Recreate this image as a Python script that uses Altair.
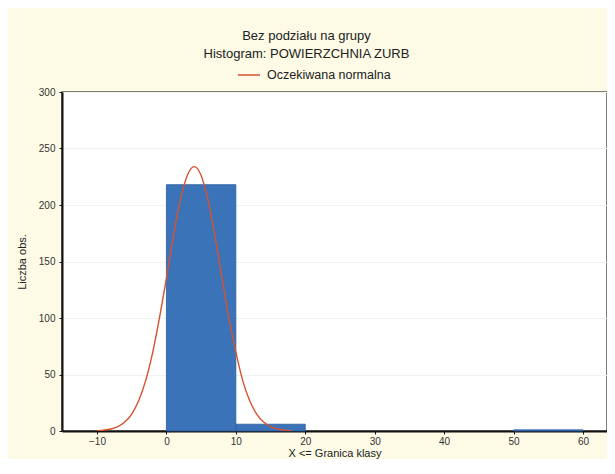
import altair as alt
import pandas as pd

# Histogram classes (upper bounds) and counts
bin_start = [0, 10, 50]
bin_end = [10, 20, 60]
counts = [218, 6, 1]

# Expected normal curve
curve_x = [-10, -9, -8, -7, -6, -5, -4, -3, -2, -1, 0, 1, 2, 3, 4, 5, 6, 7, 8,
           9, 10, 11, 12, 13, 14, 15, 16, 17, 18]
curve_y = [0.3, 0.8, 1.8, 3.9, 7.9, 15.0, 26.7, 44.4, 69.0, 100.2, 135.0, 172.5,
           204.3, 226.2, 234.0, 226.2, 204.3, 172.5, 136.0, 100.2, 70.0, 44.4,
           26.7, 15.0, 7.9, 3.9, 1.8, 0.8, 0.3]

x_ticks = [-10, 0, 10, 20, 30, 40, 50, 60]
y_ticks = [0, 50, 100, 150, 200, 250, 300]
series_name = "Oczekiwana normalna"

bars_df = pd.DataFrame({"start": bin_start, "end": bin_end, "count": counts})
curve_df = pd.DataFrame({"x": curve_x, "y": curve_y, "series": [series_name] * len(curve_x)})

FONT = "Liberation Sans, Arial, sans-serif"

xscale = alt.Scale(domain=[-15.04, 63.46], nice=False, zero=False)
yscale = alt.Scale(domain=[0, 300], nice=False)

x_axis = alt.Axis(values=x_ticks, title="X <= Granica klasy", grid=False,
                  labelPadding=2, titlePadding=1, titleFontSize=11)
y_axis = alt.Axis(values=y_ticks, title="Liczba obs.", grid=True,
                  gridColor="#f3f3ee", labelPadding=4, titlePadding=11,
                  titleFontSize=11)

bars = alt.Chart(bars_df).mark_rect(
    color="#3b73b9", stroke="#2b5c9e", strokeWidth=0.8
).encode(
    x=alt.X("start:Q", scale=xscale, axis=x_axis),
    x2="end:Q",
    y=alt.Y("count:Q", scale=yscale, axis=y_axis),
    y2=alt.datum(0),
)

curve = alt.Chart(curve_df).mark_line(
    interpolate="monotone", strokeWidth=1.4, clip=True
).encode(
    x=alt.X("x:Q", scale=xscale),
    y=alt.Y("y:Q", scale=yscale),
    color=alt.Color(
        "series:N",
        scale=alt.Scale(domain=[series_name], range=["#d8512f"]),
        legend=alt.Legend(
            title=None, orient="none", legendX=175, legendY=-29,
            symbolType="stroke", symbolSize=484, symbolStrokeWidth=1.5,
            labelFont=FONT, labelFontSize=12.5, labelColor="#222",
            labelOffset=6,
        ),
    ),
)

chart = alt.layer(bars, curve).properties(
    width=545,
    height=339,
    autosize=alt.AutoSizeParams(type="none"),
    padding={"left": 54, "top": 84, "right": 0, "bottom": 28},
    background="#fdfbe6",
    title=alt.TitleParams(
        text=["Bez podziału na grupy", "Histogram: POWIERZCHNIA ZURB"],
        anchor="middle", font=FONT, fontSize=13, fontWeight="normal",
        color="#222", lineHeight=18, offset=2, dx=-28,
    ),
).configure_view(
    stroke="#555555", strokeWidth=1.5, fill="white"
).configure_axis(
    domainColor="#111111", domainWidth=2, tickColor="#111111", tickSize=3,
    labelFont=FONT, labelFontSize=10, labelColor="#333333",
    titleFont=FONT, titleFontWeight="normal", titleColor="#222222",
)

chart.save("out.html", embed_options={"renderer": "svg", "actions": False})
